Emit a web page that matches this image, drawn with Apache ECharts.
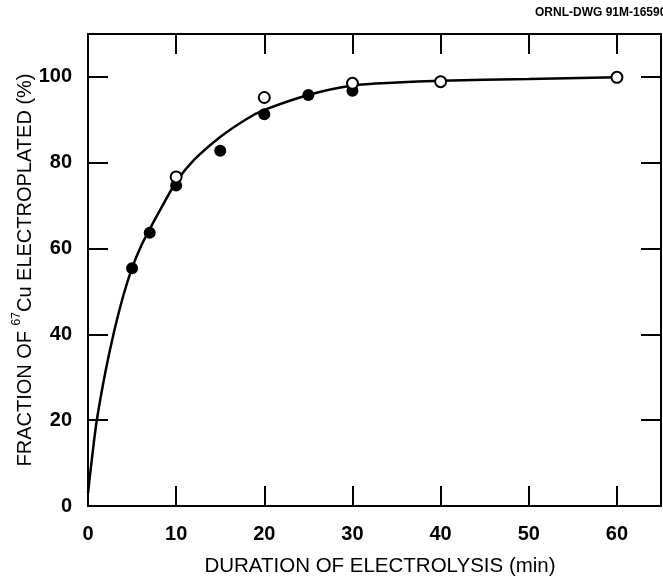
<!DOCTYPE html>
<html>
<head>
<meta charset="utf-8">
<script src="https://cdn.jsdelivr.net/npm/echarts@6/dist/echarts.min.js"></script>
<style>
html,body{margin:0;padding:0;background:#fff;}
#chart{width:663px;height:577px;}
</style>
</head>
<body>
<div id="chart"></div>
<script>
// Fitted curve
var curveT = [0, 0.5, 1, 2, 3, 4, 5, 6, 7, 8, 10, 12, 15, 18, 20, 25, 30, 35, 40, 50, 60];
var curveY = [3, 12, 20, 31.5, 41, 49, 55.5, 60.5, 64.5, 68.3, 75.5, 80.6, 86, 90.2, 92.3, 95.8, 98.0, 98.7, 99.1, 99.5, 99.9];
// Filled circles
var filledT = [5, 7, 10, 15, 20, 25, 30];
var filledY = [55.4, 63.7, 74.7, 82.8, 91.3, 95.8, 96.8];
// Open circles
var openT = [10, 20, 30, 40, 60];
var openY = [76.7, 95.2, 98.5, 98.9, 99.9];
// Axis ticks
var xTicks = [0, 10, 20, 30, 40, 50, 60];
var yTicks = [0, 20, 40, 60, 80, 100];

function zip(a, b) { return a.map(function (v, i) { return [v, b[i]]; }); }

var FONT = 'Liberation Sans, Arial, sans-serif';
var INK = '#000';

var chart = echarts.init(document.getElementById('chart'), null, {renderer: 'canvas'});

var commonLine = {show: true, onZero: false, lineStyle: {color: INK, width: 2}};
var commonTick = {show: true, inside: true, length: 20, lineStyle: {color: INK, width: 2}};

chart.setOption({
  animation: false,
  backgroundColor: '#fff',
  grid: {left: 88, right: 2, top: 34, bottom: 71, containLabel: false, outerBoundsMode: 'none'},
  graphic: [{
    type: 'text', left: 535, top: 7,
    style: {text: 'ORNL-DWG 91M-16590', font: 'bold 12px ' + FONT, fill: INK}
  }],
  xAxis: [{
    type: 'value', min: 0, max: 65, interval: 10, position: 'bottom',
    axisLine: commonLine, axisTick: commonTick, splitLine: {show: false},
    axisLabel: {
      margin: 18, color: INK, fontSize: 20, fontWeight: 'bold', fontFamily: FONT,
      formatter: function (v) { return xTicks.indexOf(v) >= 0 ? String(v) : ''; }
    },
    name: 'DURATION OF ELECTROLYSIS (min)', nameLocation: 'middle', nameGap: 50, nameMoveOverlap: false,
    nameTextStyle: {color: INK, fontSize: 20.5, fontFamily: FONT, padding: [0, 0, 0, 11]}
  }, {
    type: 'value', min: 0, max: 65, interval: 10, position: 'top',
    axisLine: commonLine, axisTick: commonTick, splitLine: {show: false},
    axisLabel: {show: false}
  }],
  yAxis: [{
    type: 'value', min: 0, max: 110, interval: 20, position: 'left',
    axisLine: commonLine, axisTick: commonTick, splitLine: {show: false},
    axisLabel: {
      margin: 16, color: INK, fontSize: 20, fontWeight: 'bold', fontFamily: FONT,
      formatter: function (v) { return yTicks.indexOf(v) >= 0 ? String(v) : ''; }
    },
    name: 'FRACTION OF {sup|67}Cu ELECTROPLATED (%)', nameLocation: 'middle', nameGap: 48, nameRotate: 90,
    nameMoveOverlap: false,
    nameTextStyle: {
      color: INK, fontSize: 20, fontFamily: FONT, lineHeight: 29,
      rich: {sup: {fontSize: 12, lineHeight: 12, verticalAlign: 'top', color: INK, fontFamily: FONT}}
    }
  }, {
    type: 'value', min: 0, max: 110, interval: 20, position: 'right',
    axisLine: commonLine, axisTick: commonTick, splitLine: {show: false},
    axisLabel: {show: false}
  }],
  series: [{
    type: 'line', data: zip(curveT, curveY), smooth: 0.3, symbol: 'none',
    lineStyle: {color: INK, width: 2.5}, z: 2
  }, {
    type: 'scatter', data: zip(filledT, filledY), symbol: 'circle', symbolSize: 12,
    itemStyle: {color: INK, opacity: 1}, z: 3
  }, {
    type: 'scatter', data: zip(openT, openY), symbol: 'circle', symbolSize: 11,
    itemStyle: {color: '#fff', borderColor: INK, borderWidth: 2, opacity: 1}, z: 4
  }]
});
</script>
</body>
</html>
